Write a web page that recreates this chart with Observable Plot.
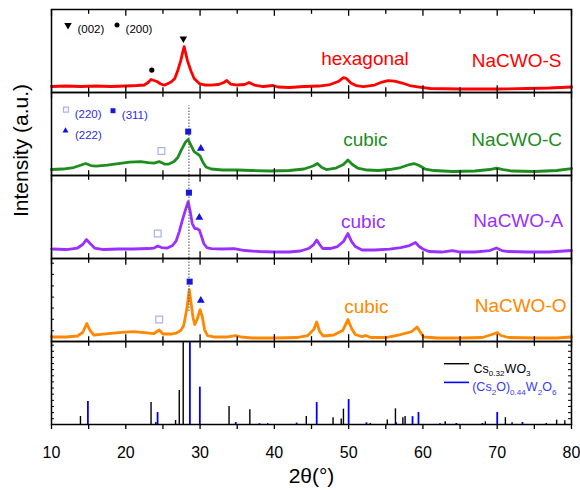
<!DOCTYPE html>
<html>
<head>
<meta charset="utf-8">
<script src="https://cdn.jsdelivr.net/npm/d3@7"></script>
<script src="https://cdn.jsdelivr.net/npm/@observablehq/plot@0.6"></script>
<style>
  html, body { margin: 0; padding: 0; background: #fff; }
  #chart svg { display: block; }
</style>
</head>
<body>
<div id="chart"></div>
<script>
// ---------------- data ----------------
const panels = ["NaCWO-S", "NaCWO-C", "NaCWO-A", "NaCWO-O", "ref"];
const phaseNames = ["hexagonal", "cubic", "cubic", "cubic"];

// XRD patterns: [2θ (°), intensity (a.u.)]
const seriesS = [[10,6],[12,6.5],[14,6],[16,6.5],[18,6],[20,6.5],[21.5,7],[22.5,7.5],[23,10],[23.4,13],[23.8,12],[24.2,11],[24.7,8.5],[25.2,7.3],[26.1,10.5],[26.6,14],[27,22],[27.4,32],[27.65,40],[27.86,46],[28.05,40],[28.3,32],[28.75,22],[29.2,14],[29.9,9],[30.7,7.5],[31.4,7.3],[32.5,8],[33.2,10],[33.6,12],[34.1,8.5],[35,7.5],[36,8],[36.6,10],[37.3,7.5],[38.5,6],[39.8,7],[40.5,5.5],[42,5],[44,6],[46,6.5],[47.5,8],[48.6,11],[49.3,15],[49.7,14],[50.3,9.5],[51,7],[52,6],[53.5,7.5],[54.5,10.5],[55.3,12],[56.2,11.5],[57.2,9.5],[58.2,7],[59.5,5.5],[61,4],[65,3.5],[70,3.5],[74,4],[77,4.5],[80,5.5]];
const seriesC = [[10,6],[11.5,6.5],[13,8],[14,10.5],[14.6,12],[15.3,10],[16,9.5],[17.5,10.5],[19,12],[20.5,13.5],[22,14],[23,13],[23.8,12.5],[24.5,14],[25.2,11.5],[25.8,11.5],[26.5,14],[27,18],[27.5,26],[28,33],[28.4,36],[28.8,30],[29.2,24],[29.6,22],[30,19.5],[30.4,13],[30.8,8.5],[31.5,6.5],[33,5.5],[35,5.5],[37,5],[39.5,4.5],[42,5],[44,6.5],[45.2,9.5],[45.8,12],[46.4,8],[47,6],[48.3,7.5],[49.3,11],[49.9,15.5],[50.5,11],[51.2,7.5],[52.5,5.5],[54,5],[55.5,6],[57,8],[58.2,11],[58.8,12],[59.5,10],[60.3,6.5],[61.5,5],[64,4],[67,4.5],[69,6],[69.9,7.5],[70.8,6],[72,4.5],[75,4],[78,5],[80,7]];
const seriesA = [[10,9.5],[12,9],[13.5,10.5],[14.2,14],[14.7,19],[15.2,15],[15.8,10.5],[17,9],[19,9.5],[21,9.5],[23,10],[23.8,10.5],[24.3,12.5],[24.8,11],[25.6,10.5],[26.3,13],[26.8,18],[27.2,27],[27.6,38],[28,48],[28.4,57],[28.7,46],[28.95,35],[29.3,30],[29.6,30],[29.9,28.5],[30.2,22],[30.5,15],[30.9,11],[31.5,10],[33,9.5],[34.6,10],[36,8],[38,7],[40,6.5],[42,6.5],[43.5,7.5],[44.6,10],[45.3,14],[45.7,18.5],[46.1,14],[46.5,10],[47.5,10],[48.5,12],[49.3,17],[49.9,25],[50.4,17],[50.9,12],[51.8,8.5],[53.5,8.5],[55.5,9.5],[57,11],[58.2,13],[59,16],[59.5,12],[60,9.5],[60.8,7],[62.5,6.5],[64,8],[65,6.5],[67,6.5],[69,8],[69.9,10.5],[70.6,8],[71.5,7],[74,6.5],[77,6.5],[80,8]];
const seriesO = [[10,4.5],[12,4.5],[13.5,5.5],[14.2,9],[14.75,18],[15.2,11],[15.7,6.5],[17,7.5],[19,9],[21,10],[22.5,9],[23.8,8],[24.5,11.5],[25,7.5],[26,7.5],[26.8,8.5],[27.4,11],[27.8,16],[28.2,32],[28.55,52],[28.8,38],[29.05,24],[29.3,17],[29.6,22],[30,32],[30.3,25],[30.6,12],[31,6],[32,4.5],[33.5,4.5],[34.8,6],[35.5,4.5],[37,3.5],[40,3.5],[43,4],[44.5,6],[45.3,12],[45.7,19.5],[46.1,10],[46.6,5.5],[48,6.5],[49.2,11],[49.9,22],[50.4,13],[50.9,7],[51.7,5],[52.3,6],[53,4],[55,4],[57,7],[58.5,10],[59.2,14.5],[59.6,10],[60.1,4.5],[62,3.5],[65,3.5],[68,4],[69.5,7.5],[70,9],[70.5,6],[71.5,4],[75,3.5],[78,3.5],[80,4.5]];

// reference stick patterns: [2θ, relative intensity]
const sticksCs032WO3 = [[13.9,8],[23.4,22],[24.05,2],[26.7,4],[27.2,34],[27.73,100],[33.9,18],[36.7,14.7],[39.1,0.8],[44.3,8],[47.9,6.8],[49.0,5.5],[49.3,15.4],[52.9,1],[55.2,4.4],[56.3,15.7],[57.3,6.8],[57.6,7.9],[63.0,2.7],[68.4,2.7],[71.1,6.8],[72.0,1.7],[76.6,1],[78.0,4.4],[79.1,3.8]];
const sticksCs2O = [[14.9,23],[24.28,12],[28.63,100],[29.97,37.5],[34.8,2],[38.0,0.8],[43.0,1.4],[45.7,22],[50.0,25],[52.4,1.7],[56.4,1.7],[58.6,7.9],[59.4,12],[62.3,0.8],[64.5,1],[68.0,1],[70.0,12],[73.4,2]];

// peak markers: panel, 2θ, intensity, kind
const peakMarkers = [
  {panel: "NaCWO-S", x: 27.75, y: 54, kind: "002"},
  {panel: "NaCWO-S", x: 23.5, y: 22.5, kind: "200"},
  {panel: "NaCWO-C", x: 24.8, y: 24.5, kind: "220"},
  {panel: "NaCWO-C", x: 28.4, y: 44, kind: "311"},
  {panel: "NaCWO-C", x: 30.1, y: 27, kind: "222"},
  {panel: "NaCWO-A", x: 24.3, y: 25, kind: "220"},
  {panel: "NaCWO-A", x: 28.5, y: 66, kind: "311"},
  {panel: "NaCWO-A", x: 29.9, y: 41, kind: "222"},
  {panel: "NaCWO-O", x: 24.5, y: 22, kind: "220"},
  {panel: "NaCWO-O", x: 28.6, y: 60, kind: "311"},
  {panel: "NaCWO-O", x: 30.1, y: 41, kind: "222"}
];
const peak311 = 28.5;

// ticks
const xTickValues = [10,15,20,25,30,35,40,45,50,55,60,65,70,75,80];
const yTicksO = [10.7,22.3,33.5,44.5,55.7,67.3,78.5];
const yTicksRef = [5.8,11.9,18.1,24.2,30.4,36.5,42.7,48.8,55.0,61.1,67.3,73.4,79.5];

// ---------------- layout / style ----------------
const W = 580, H = 490, mL = 51, mR = 9, mT = 8, mB = 66;
const facetH = (H - mT - mB) / panels.length;
const frameW = W - mL - mR;
const colors = ["#ff0000", "#1e8c1e", "#9a30ff", "#ff8800"];
const blueText = "#2d2ddb";
const font = "'Liberation Sans', Arial, Helvetica, sans-serif";
const series = [seriesS, seriesC, seriesA, seriesO];

const markerStyle = {
  "002": {symbol: "triangle", rotate: 180, r: 2.8, fill: "black"},
  "200": {symbol: "circle", r: 2.6, fill: "black"},
  "220": {symbol: "square", r: 3.8, fill: "white", stroke: "#aab1ee", strokeWidth: 1.2},
  "311": {symbol: "square", r: 3.4, fill: "#1717d4"},
  "222": {symbol: "triangle", r: 2.9, fill: "#1111e0"}
};

const fyOf = p => () => p;
const marks = [];

// curves
series.forEach((s, i) => {
  marks.push(Plot.line(s, {x: d => d[0], y: d => d[1], fy: fyOf(panels[i]),
    stroke: colors[i], strokeWidth: 2.8, strokeLinejoin: "round"}));
});

// reference sticks
marks.push(Plot.ruleX(sticksCs032WO3, {x: d => d[0], y1: 0, y2: d => d[1], fy: fyOf("ref"), stroke: "black", strokeWidth: 1.4, clip: true}));
marks.push(Plot.ruleX(sticksCs2O, {x: d => d[0], y1: 0, y2: d => d[1], fy: fyOf("ref"), stroke: "#0000ff", strokeWidth: 1.8, clip: true}));

// dotted guide through the (311) peak
marks.push(Plot.ruleX([
  {panel: "NaCWO-C", y1: 0, y2: 70},
  {panel: "NaCWO-A", y1: 0, y2: facetH},
  {panel: "NaCWO-O", y1: 30, y2: facetH}
], {x: () => peak311, y1: "y1", y2: "y2", fy: "panel", stroke: "#666", strokeWidth: 1.2, strokeDasharray: "1.5,1.5"}));

// peak markers
Object.entries(markerStyle).forEach(([k, st]) => {
  marks.push(Plot.dot(peakMarkers.filter(d => d.kind === k), {x: "x", y: "y", fy: "panel", ...st}));
});

// frames and inward ticks
marks.push(Plot.frame({stroke: "black", strokeWidth: 1.5}));
const majors = xTickValues.filter(d => d % 10 === 0);
const minors = xTickValues.filter(d => d % 10 !== 0);
marks.push(Plot.ruleX(majors, {x: d => d, insetBottom: facetH - 7, stroke: "black", strokeWidth: 1.3}));
marks.push(Plot.ruleX(minors, {x: d => d, insetBottom: facetH - 5, stroke: "black", strokeWidth: 1.3}));
marks.push(Plot.ruleX(d3.cross(panels.slice(0, 4), majors), {x: d => d[1], fy: d => d[0], insetTop: facetH - 7, stroke: "black", strokeWidth: 1.3}));
marks.push(Plot.ruleX(d3.cross(panels.slice(0, 4), minors), {x: d => d[1], fy: d => d[0], insetTop: facetH - 5, stroke: "black", strokeWidth: 1.3}));
marks.push(Plot.ruleY(yTicksO, {y: d => d, fy: fyOf("NaCWO-O"), insetRight: frameW - 3, stroke: "black", strokeWidth: 1}));
marks.push(Plot.ruleY(yTicksRef, {y: d => d, fy: fyOf("ref"), insetRight: frameW - 3, stroke: "black", strokeWidth: 1}));
marks.push(Plot.ruleY(yTicksRef, {y: d => d, fy: fyOf("ref"), insetLeft: frameW - 3, stroke: "black", strokeWidth: 1}));

// bottom axis
marks.push(Plot.axisX({anchor: "bottom", ticks: xTickValues, tickSize: 5, tickPadding: 17,
  tickFormat: d => d % 10 === 0 ? String(d) : "", fontSize: 16, label: null, strokeWidth: 1.3, fill: "black"}));
marks.push(Plot.text(["2θ(°)"], {fy: fyOf("ref"), frameAnchor: "bottom", dy: 58, fontSize: 21, fill: "black"}));
marks.push(Plot.text(["Intensity (a.u.)"], {fy: fyOf("NaCWO-A"), frameAnchor: "left", rotate: -90, lineAnchor: "top", dx: -38, fontSize: 21, fill: "black"}));

// panel labels
const nameDx = [-10, -9.5, -8.4, -5];
const nameDy = [44.2, 40.2, 38.1, 39.9];
const phaseDx = [53.5, 53.8, 51.7, 54.8];
const phaseDy = [41.9, 40.2, 39.4, 40.5];
panels.slice(0, 4).forEach((p, i) => {
  marks.push(Plot.text([p], {fy: fyOf(p), frameAnchor: "top-right", textAnchor: "end", dx: nameDx[i], dy: nameDy[i], fontSize: 19, fill: colors[i]}));
  marks.push(Plot.text([phaseNames[i]], {fy: fyOf(p), frameAnchor: "top", dx: phaseDx[i], dy: phaseDy[i], fontSize: 19, fill: colors[i]}));
});

// peak legends
const legendItems = [
  {panel: "NaCWO-S", kind: "002", dx: 16.5, dy: 15.7, r: 2.8, tdx: 25.9, color: "black"},
  {panel: "NaCWO-S", kind: "200", dx: 65.5, dy: 15.5, r: 2.5, tdx: 74.1, color: "black"},
  {panel: "NaCWO-C", kind: "220", dx: 14.5, dy: 17.2, r: 2.8, tdx: 23.2, color: blueText},
  {panel: "NaCWO-C", kind: "311", dx: 61.5, dy: 18.2, r: 2.8, tdx: 70.3, color: blueText},
  {panel: "NaCWO-C", kind: "222", dx: 14, dy: 38.2, r: 2.2, tdx: 23.5, color: blueText}
];
legendItems.forEach(it => {
  const st = {...markerStyle[it.kind], r: it.r};
  marks.push(Plot.dot([it], {fy: "panel", frameAnchor: "top-left", dx: it.dx, dy: it.dy, ...st}));
  marks.push(Plot.text([it], {text: d => `(${d.kind})`, fy: "panel", frameAnchor: "top-left", textAnchor: "start", dx: it.tdx, dy: it.dy, fontSize: 11.5, fill: it.color}));
});

// reference legend
marks.push(Plot.ruleY([facetH], {y: d => d, fy: fyOf("ref"), dy: 22.2, insetLeft: 393, insetRight: 102, stroke: "black", strokeWidth: 1.4}));
marks.push(Plot.ruleY([facetH], {y: d => d, fy: fyOf("ref"), dy: 40.9, insetLeft: 393, insetRight: 102, stroke: "#0000ff", strokeWidth: 1.6}));
marks.push(Plot.text(["Cs_{0.32}WO_{3}"], {fy: fyOf("ref"), frameAnchor: "top-left", textAnchor: "start", dx: 422, dy: 22.2, fontSize: 12.5, fill: "black"}));
marks.push(Plot.text(["(Cs_{2}O)_{0.44}W_{2}O_{6}"], {fy: fyOf("ref"), frameAnchor: "top-left", textAnchor: "start", dx: 420.7, dy: 40.9, fontSize: 12.5, fill: "#3a3aff"}));

const chart = Plot.plot({
  width: W, height: H,
  marginLeft: mL, marginRight: mR, marginTop: mT, marginBottom: mB,
  style: {fontFamily: font, background: "white", color: "black"},
  x: {domain: [10, 80]},
  y: {domain: [0, facetH], axis: null},
  fy: {domain: panels, padding: 0, axis: null},
  marks
});

// subscripts: convert "_{...}" into lowered, smaller tspans
(function applySubscripts(svg) {
  const ns = "http://www.w3.org/2000/svg";
  svg.querySelectorAll("text").forEach(t => {
    const s = t.textContent;
    if (!s.includes("_{")) return;
    const parts = [];
    let idx = 0;
    s.replace(/_\{([^}]*)\}/g, (m, g, off) => {
      if (off > idx) parts.push({str: s.slice(idx, off), sub: false});
      parts.push({str: g, sub: true});
      idx = off + m.length;
      return m;
    });
    if (idx < s.length) parts.push({str: s.slice(idx), sub: false});
    t.textContent = "";
    let cur = 0;
    for (const p of parts) {
      const ts = document.createElementNS(ns, "tspan");
      ts.textContent = p.str;
      const target = p.sub ? 3.5 : 0;
      if (target !== cur) ts.setAttribute("dy", target - cur);
      cur = target;
      if (p.sub) ts.setAttribute("font-size", "65%");
      t.appendChild(ts);
    }
  });
})(chart);

document.getElementById("chart").appendChild(chart);
</script>
</body>
</html>
